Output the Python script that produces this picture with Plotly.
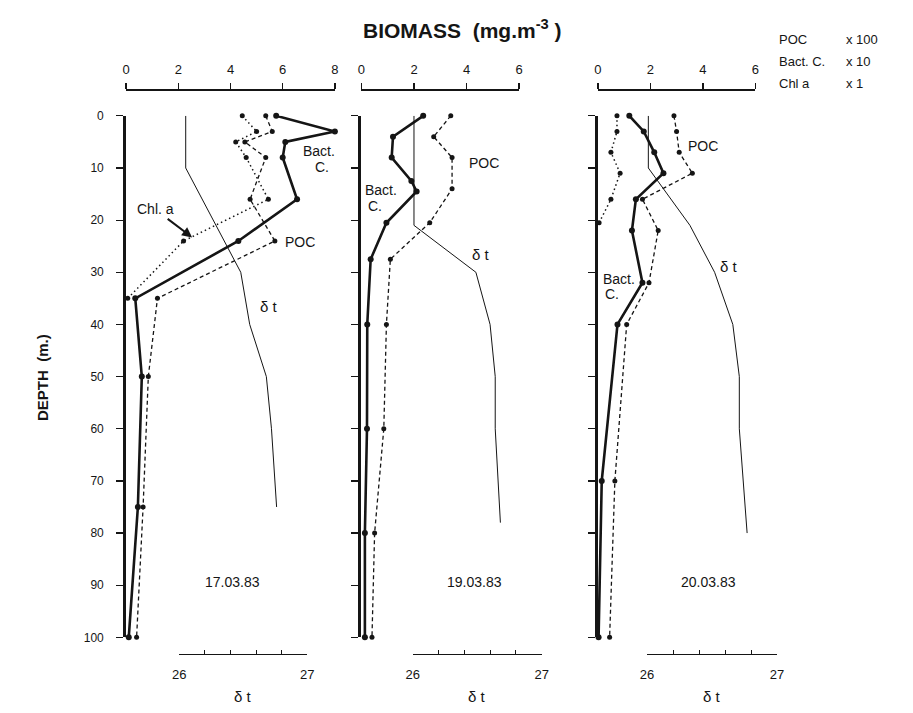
import plotly.graph_objects as go

W, H = 913, 713
FONT = "Liberation Sans, Arial, sans-serif"
INK = "#151515"

# ---------------- data ----------------
# 17.03.83
p1_bact_depth = [0, 3, 5, 8, 16, 24, 35, 50, 75, 100]
p1_bact = [5.75, 8.0, 6.1, 6.0, 6.55, 4.3, 0.35, 0.6, 0.45, 0.1]
p1_poc_depth = [0, 3, 5, 8, 16, 24, 35, 50, 75, 100]
p1_poc = [5.35, 5.6, 4.55, 5.35, 4.75, 5.7, 1.2, 0.85, 0.65, 0.4]
p1_chl_depth = [0, 3, 5, 8, 16, 24, 35]
p1_chl = [4.45, 5.0, 4.2, 4.6, 5.45, 2.2, 0.06]
p1_sigma_depth = [0, 10, 30, 40, 50, 60, 75]
p1_sigma = [26.05, 26.05, 26.48, 26.55, 26.68, 26.72, 26.76]

# 19.03.83
p2_bact_depth = [0, 4, 8, 12.5, 14.5, 20.5, 27.5, 40, 60, 80, 100]
p2_bact = [2.35, 1.2, 1.15, 1.9, 2.1, 0.95, 0.35, 0.22, 0.21, 0.13, 0.13]
p2_poc_depth = [0, 4, 8, 14, 20.5, 27.5, 40, 60, 80, 100]
p2_poc = [3.4, 2.75, 3.45, 3.45, 2.6, 1.1, 0.95, 0.85, 0.5, 0.4]
p2_sigma_depth = [0, 21, 30, 40, 50, 60, 78]
p2_sigma = [26.01, 26.01, 26.49, 26.6, 26.64, 26.64, 26.68]

# 20.03.83
p3_bact_depth = [0, 3, 7, 11, 16, 22, 32, 40, 70, 100]
p3_bact = [1.2, 1.75, 2.15, 2.5, 1.45, 1.3, 1.7, 0.75, 0.15, 0.03]
p3_poc_depth = [0, 3, 7, 11, 16, 22, 32, 40, 70, 100]
p3_poc = [2.9, 3.0, 3.1, 3.6, 1.7, 2.3, 1.95, 1.1, 0.65, 0.45]
p3_chl_depth = [0, 3, 7, 11, 16, 20.5]
p3_chl = [0.73, 0.73, 0.5, 0.85, 0.5, 0.05]
p3_sigma_depth = [0, 10, 21, 30, 40, 50, 60, 80]
p3_sigma = [26.01, 26.01, 26.33, 26.52, 26.66, 26.71, 26.71, 26.77]

depth_ticks = [0, 10, 20, 30, 40, 50, 60, 70, 80, 90, 100]
dates = ["17.03.83", "19.03.83", "20.03.83"]
biomass_max = [8, 6, 6]
sigma_range = [26, 27]


def fx(p):
    return p / W


def fy(p):
    return 1 - p / H


fig = go.Figure()

STY = {
    "bact": dict(mode="lines+markers", line=dict(color=INK, width=2.6),
                 marker=dict(size=6, color=INK)),
    "poc": dict(mode="lines+markers", line=dict(color=INK, width=1.3, dash="4px,3px"),
                marker=dict(size=5, color=INK)),
    "chl": dict(mode="lines+markers", line=dict(color=INK, width=1.5, dash="1.5px,3px"),
                marker=dict(size=5, color=INK)),
    "sigma": dict(mode="lines", line=dict(color=INK, width=1)),
}


def add(x, y, xa, ya, kind):
    fig.add_trace(go.Scatter(x=x, y=y, xaxis=xa, yaxis=ya, showlegend=False,
                             hoverinfo="skip", cliponaxis=False, **STY[kind]))


# panel 1
add(p1_sigma, p1_sigma_depth, "x4", "y", "sigma")
add(p1_chl, p1_chl_depth, "x", "y", "chl")
add(p1_poc, p1_poc_depth, "x", "y", "poc")
add(p1_bact, p1_bact_depth, "x", "y", "bact")
# panel 2
add(p2_sigma, p2_sigma_depth, "x5", "y2", "sigma")
add(p2_poc, p2_poc_depth, "x2", "y2", "poc")
add(p2_bact, p2_bact_depth, "x2", "y2", "bact")
# panel 3
add(p3_sigma, p3_sigma_depth, "x6", "y3", "sigma")
add(p3_chl, p3_chl_depth, "x3", "y3", "chl")
add(p3_poc, p3_poc_depth, "x3", "y3", "poc")
add(p3_bact, p3_bact_depth, "x3", "y3", "bact")

bio_dom = [(121, 333), (360, 520), (600, 760)]
sig_dom = [(175, 305), (412, 543), (650, 782)]
TOP_Y = 85
SIG_Y = 660
Y_TOP, Y_BOT = 111, 643

layout = dict(
    width=W, height=H, margin=dict(l=0, r=0, t=0, b=0),
    paper_bgcolor="white", plot_bgcolor="rgba(0,0,0,0)",
    font=dict(family=FONT, color=INK, size=13),
    showlegend=False,
)

for i in range(3):
    n = "" if i == 0 else str(i + 1)
    xa = dict(domain=[fx(bio_dom[i][0]), fx(bio_dom[i][1])], range=[0, biomass_max[i]],
              side="top", anchor="free", position=fy(TOP_Y), showline=True,
              linecolor=INK, linewidth=2, ticks="outside", ticklen=6, tickwidth=1.5,
              tickcolor=INK, tick0=0, dtick=2, showgrid=False, zeroline=False,
              tickfont=dict(size=13, family=FONT, color=INK), ticklabelstandoff=4,
              fixedrange=True)
    layout["xaxis" + n] = xa
    # crossing part of ticks (below the top line)
    layout["xaxis" + str(i + 7)] = dict(overlaying="x" + n, range=[0, biomass_max[i]],
                                        side="top", anchor="free", position=fy(TOP_Y),
                                        showline=False, ticks="inside", ticklen=5,
                                        tickwidth=1.5, tickcolor=INK, tick0=0, dtick=2,
                                        showticklabels=False, showgrid=False,
                                        zeroline=False, fixedrange=True)
    layout["xaxis" + str(i + 4)] = dict(domain=[fx(sig_dom[i][0]), fx(sig_dom[i][1])],
                                        range=sigma_range, side="bottom", anchor="free",
                                        position=fy(SIG_Y), showline=True, linecolor=INK,
                                        linewidth=1.2, ticks="inside", tickvals=sigma_range,
                                        ticklen=11, tickwidth=1.2, tickcolor=INK,
                                        minor=dict(ticks="inside", ticklen=4, dtick=0.2,
                                                   tick0=26, tickcolor=INK, tickwidth=1),
                                        showgrid=False, zeroline=False,
                                        tickfont=dict(size=13, family=FONT, color=INK),
                                        ticklabelstandoff=8, fixedrange=True)
    layout["yaxis" + n] = dict(domain=[fy(Y_BOT), fy(Y_TOP)], range=[100, 0],
                               anchor="x" + n, side="left", showline=True, linecolor=INK,
                               linewidth=3, ticks="outside", ticklen=7, tickwidth=1.2,
                               tickcolor=INK, tickvals=depth_ticks,
                               showticklabels=(i == 0), showgrid=False, zeroline=False,
                               tickfont=dict(size=12, family=FONT, color=INK),
                               ticklabelstandoff=10, fixedrange=True)

fig.update_layout(**layout)


def txt(t, x, y, size=13, anchor="center", bold=False, angle=0):
    fig.add_annotation(text=("<b>%s</b>" % t) if bold else t, x=fx(x), y=fy(y),
                       xref="paper", yref="paper", showarrow=False, xanchor=anchor,
                       yanchor="middle", textangle=angle,
                       font=dict(size=size, family=FONT, color=INK))


txt("BIOMASS  (mg.m<sup>-3</sup> )", 463, 22, size=21, bold=True)
txt("DEPTH  (m.)", 36, 378, size=15, bold=True, angle=-90)

# multiplier key
txt("POC", 782, 33, anchor="left")
txt("x 100", 850, 33, anchor="left")
txt("Bact. C.", 782, 56, anchor="left")
txt("x 10", 850, 56, anchor="left")
txt("Chl a", 782, 78, anchor="left")
txt("x 1", 850, 78, anchor="left")

# panel labels
txt("Bact.", 317, 147, size=14)
txt("C.", 320, 163, size=14)
txt("POC", 298, 240, size=14)
# Chl a label with its arrow
fig.add_annotation(x=fx(188), y=fy(235), ax=-37, ay=-28, axref="pixel", ayref="pixel",
                   xref="paper", yref="paper", text="Chl. a", showarrow=True,
                   arrowhead=2, arrowsize=1, arrowwidth=2, arrowcolor=INK,
                   font=dict(size=14, family=FONT, color=INK))
txt("δ t", 266, 305, size=15)

txt("POC", 484, 159, size=14)
txt("Bact.", 362, 187, size=14, anchor="left")
txt("C.", 365, 203, size=14, anchor="left")
txt("δ t", 481, 252, size=15)

txt("POC", 707, 142, size=14)
txt("Bact.", 603, 277, size=14, anchor="left")
txt("C.", 605, 293, size=14, anchor="left")
txt("δ t", 733, 265, size=15)

for d, cx in zip(dates, [229, 475, 712]):
    txt(d, cx, 587, size=14)
for cx in [240, 477, 716]:
    txt("δ t", cx, 703, size=15)

fig.write_html("out.html",
               config={"displayModeBar": False, "staticPlot": True},
               post_script="document.body.style.margin='0';"
                           "document.body.style.overflow='hidden';")
